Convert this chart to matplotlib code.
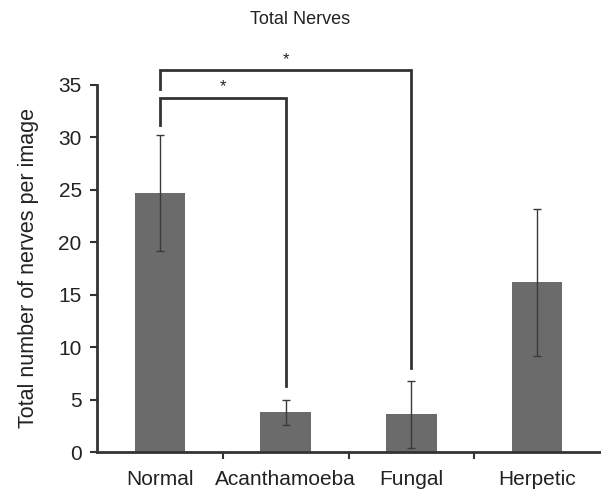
import matplotlib
matplotlib.use("Agg")
import matplotlib.pyplot as plt
import numpy as np

plt.rcParams['font.family'] = ['Liberation Sans', 'DejaVu Sans']

categories = ["Normal", "Acanthamoeba", "Fungal", "Herpetic"]
means = [24.7, 3.8, 3.6, 16.2]
errors = [5.5, 1.2, 3.2, 7.0]
yticks = [0, 5, 10, 15, 20, 25, 30, 35]

# significance brackets: (left index, right index, bracket height, left drop, right drop, star height)
brackets = [
    (0, 1, 33.8, 31.2, 6.3, 34.8),
    (0, 2, 36.4, 34.6, 8.0, 37.4),
]

fig = plt.figure(figsize=(6.01, 4.91), dpi=100)
ax = fig.add_axes([97/601, 39/491, 503/601, 367/491])

x = np.arange(len(categories))
ax.bar(x, means, width=0.4, color="#6b6b6b", zorder=2)
ax.errorbar(x, means, yerr=errors, fmt="none", ecolor="#3a3a3a",
            elinewidth=1.0, capsize=3, capthick=1.0, zorder=3)

for li, ri, h, ld, rd, sh in brackets:
    ax.plot([x[li], x[li], x[ri], x[ri]], [ld, h, h, rd], color="#333333",
            lw=2.0, clip_on=False, solid_joinstyle="miter", zorder=4)
    ax.text((x[li] + x[ri]) / 2, sh, "*", ha="center", va="center",
            fontsize=12, color="#222222", clip_on=False)

ax.set_xlim(-0.5, 3.5)
ax.set_ylim(0, 35)
ax.set_yticks(yticks)
ax.set_yticklabels([str(v) for v in yticks], fontsize=15, color="#222222")
ax.set_xticks(x)
ax.set_xticklabels(categories, fontsize=15, color="#222222")
ax.set_xticks([0.5, 1.5, 2.5], minor=True)
ax.tick_params(axis="x", which="major", length=0, pad=13)
ax.tick_params(axis="x", which="minor", length=5, width=1.5, direction="out", color="#333333")
ax.tick_params(axis="y", length=5, width=1.5, direction="out", color="#333333", pad=6)

for s in ["top", "right"]:
    ax.spines[s].set_visible(False)
for s in ["left", "bottom"]:
    ax.spines[s].set_linewidth(2.0)
    ax.spines[s].set_color("#333333")

ax.set_ylabel("Total number of nerves per image", fontsize=15.5, color="#222222", labelpad=14)
fig.text(300/601, 1 - 20/491, "Total Nerves", ha="center", va="center",
         fontsize=13, color="#222222")

fig.savefig("out.png", dpi=100)
